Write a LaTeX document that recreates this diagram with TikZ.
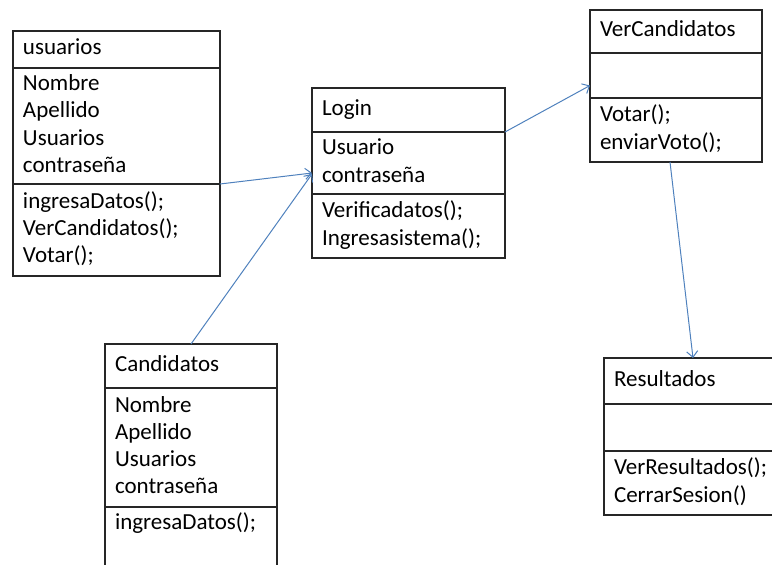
\documentclass[tikz,border=0pt]{standalone}
\usepackage{fontspec}
\setmainfont{Carlito}
\usepackage{tikz}
\usetikzlibrary{arrows.meta,positioning}
\definecolor{linkblue}{RGB}{79,129,189}

\begin{document}
\begin{tikzpicture}[
  x=1pt, y=-1pt,
  part/.style={draw=black!85, line width=1.2pt, outer sep=0pt, anchor=north west,
    align=left, text width=#1, inner xsep=10pt, inner ysep=3pt,
    font=\fontsize{23}{27.3}\selectfont,
    execute at begin node=\strut, execute at end node=\strut},
  link/.style={-{Straight Barb[length=6pt,width=11pt]}, draw=linkblue, line width=1pt}
]
\useasboundingbox (0,0) rectangle (772,565);
\clip (0,0) rectangle (772,565);

% usuarios
\node[part=187pt, minimum height=37pt] (usuarios) at (13,31) {usuarios};
\node[part=187pt, minimum height=116pt, below=0pt of usuarios] (usuarios-attr)
  {Nombre\\Apellido\\Usuarios\\contraseña};
\node[part=187pt, minimum height=92pt, below=0pt of usuarios-attr] (usuarios-ops)
  {ingresaDatos();\\VerCandidatos();\\Votar();};

% Login
\node[part=173pt, minimum height=44pt] (login) at (312,88) {Login};
\node[part=173pt, minimum height=62pt, below=0pt of login] (login-attr)
  {Usuario\\contraseña};
\node[part=173pt, minimum height=64pt, below=0pt of login-attr] (login-ops)
  {Verificadatos();\\Ingresasistema();};

% VerCandidatos
\node[part=152pt, minimum height=43pt] (ver) at (590,10) {VerCandidatos};
\node[part=152pt, minimum height=45pt, below=0pt of ver] (ver-attr) {};
\node[part=152pt, minimum height=64pt, below=0pt of ver-attr] (ver-ops)
  {Votar();\\enviarVoto();};

% Candidatos
\node[part=152pt, minimum height=44pt] (cand) at (105,344) {Candidatos};
\node[part=152pt, minimum height=119pt, below=0pt of cand] (cand-attr)
  {Nombre\\Apellido\\Usuarios\\contraseña};
\node[part=152pt, text depth=55pt, below=0pt of cand-attr] (cand-ops)
  {ingresaDatos();};

% Resultados
\node[part=158pt, minimum height=46pt] (res) at (604,358) {Resultados};
\node[part=158pt, minimum height=47pt, below=0pt of res] (res-attr) {};
\node[part=158pt, minimum height=64pt, below=0pt of res-attr] (res-ops)
  {VerResultados();\\CerrarSesion()};

\draw[link] (usuarios-ops.north east) -- ([yshift=-10pt]login-attr.west);
\draw[link] (cand.north) -- ([yshift=-11pt]login-attr.west);
\draw[link] (login.south east) -- ([yshift=-10pt]ver-attr.west);
\draw[link] ([xshift=-6pt]ver-ops.south) -- (res.north);
\end{tikzpicture}
\end{document}
